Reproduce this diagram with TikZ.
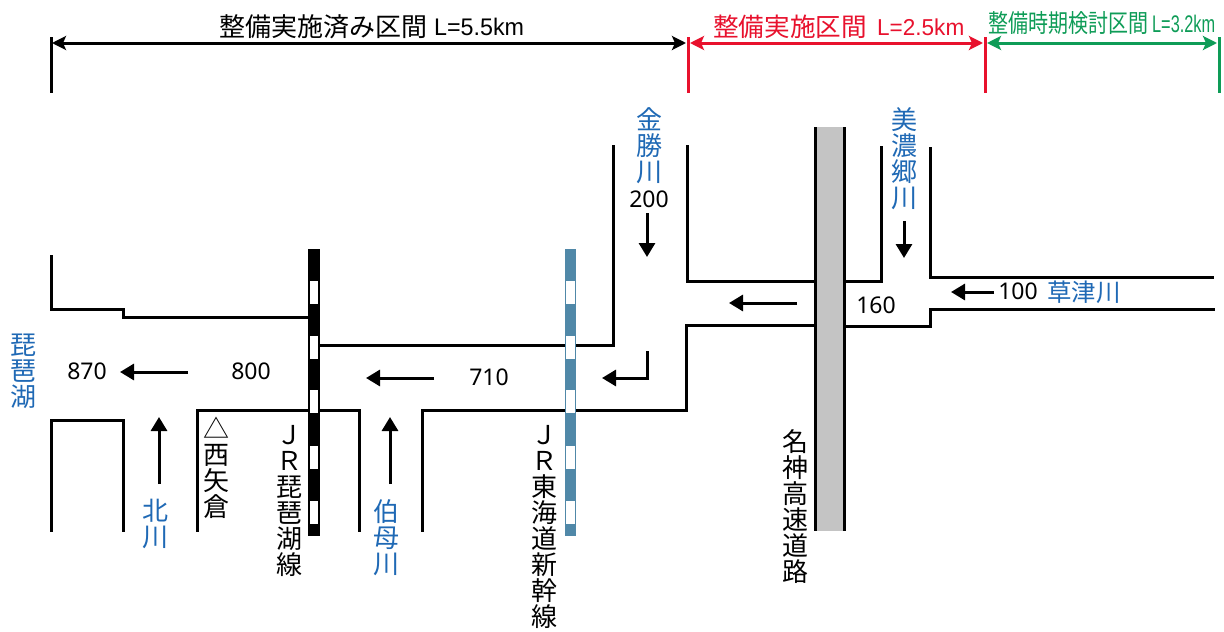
\documentclass[tikz,border=0pt]{standalone}
\usepackage{fontspec}
\usetikzlibrary{arrows.meta}
\setmainfont{Noto Sans CJK JP}
\newfontfamily\numfont{Noto Sans}
\newfontfamily\latfont{Liberation Sans}
\definecolor{riverblue}{HTML}{1F69B5}
\definecolor{secred}{HTML}{E8112D}
\definecolor{secgreen}{HTML}{0E9C57}
\definecolor{railblue}{HTML}{5088A8}
\definecolor{roadgray}{HTML}{C4C4C4}
\tikzset{
  wall/.style={line width=3pt,black,line join=miter},
  flow/.style={line width=3pt,black,-{Triangle[length=14pt,width=16pt]}},
  tick/.style={line width=3pt},
  span/.style={line width=3pt,{Stealth[length=14pt,width=14pt,inset=3pt]}-{Stealth[length=14pt,width=14pt,inset=3pt]}},
  vtext/.style={inner sep=0pt,align=center,font=\fontsize{26}{26}\selectfont},
  num/.style={inner sep=0pt,font=\numfont\fontsize{23}{24}\selectfont},
  river/.style={text=riverblue},
}
\newcommand{\railtrack}[2]{%
  \fill[#2] (#1-5.8,248.5) rectangle (#1+5.8,535.7);
  \foreach \yy in {281,335.5,390,445.5,500.5}
    \fill[white] (#1-4.2,\yy) rectangle (#1+4.2,\yy+23);
}
\begin{document}
\begin{tikzpicture}[x=1pt,y=-1pt]
\useasboundingbox (0,0) rectangle (1224,632);
\fill[white] (0,0) rectangle (1224,632);

% coordinates of brackets
\coordinate (a1) at (52,43); \coordinate (a2) at (686,43);
\coordinate (b1) at (690,43); \coordinate (b2) at (983,43);
\coordinate (c1) at (987,43); \coordinate (c2) at (1217,43);

\draw[tick,black] (51.5,37) -- (51.5,93);
\draw[tick,secred] (688,37) -- (688,93);
\draw[tick,secred] (985,37) -- (985,93);
\draw[tick,secgreen] (1219,37) -- (1219,93);
\draw[span,black] (a1) -- (a2);
\draw[span,secred] (b1) -- (b2);
\draw[span,secgreen] (c1) -- (c2);

\node[inner sep=0pt,anchor=base west] (t1) at (219,36) {\fontsize{26}{28}\selectfont 整備実施済み区間};
\node[inner sep=0pt,anchor=base west,xscale=.97] (t1b) at (434,35) {\latfont\fontsize{24}{26}\selectfont L=5.5km};
\node[inner sep=0pt,anchor=base west,text=secred] (t2) at (713,36) {\fontsize{25.6}{27}\selectfont 整備実施区間};
\node[inner sep=0pt,anchor=base west,text=secred,xscale=.98] (t2b) at (877,35) {\latfont\fontsize{23}{25}\selectfont L=2.5km};
\node[inner sep=0pt,anchor=base west,text=secgreen,xscale=.8] (t3) at (988,32) {\fontsize{25}{27}\selectfont 整備時期検討区間};
\node[inner sep=0pt,anchor=base west,text=secgreen,xscale=.68] (t3b) at (1152,32) {\latfont\fontsize{24}{26}\selectfont L=3.2km};

% channel walls
\draw[wall] (51.5,255) -- (51.5,309) -- (123,309) -- (123,317.5) -- (312,317.5);
\draw[wall] (51.5,531.5) -- (51.5,420) -- (123,420) -- (123,531.5);
\draw[wall] (197.5,531.5) -- (197.5,410) -- (359.5,410) -- (359.5,531.5);
\draw[wall] (315,345) -- (613,345) -- (613,145);
\draw[wall] (422,531.5) -- (422,410) -- (686,410) -- (686,325) -- (815,325);
\draw[wall] (687,145) -- (687,281) -- (815,281);
\draw[wall] (844,281) -- (881,281) -- (881,146);
\draw[wall] (930,147) -- (930,277) -- (1214,277);
\draw[wall] (844,326) -- (930,326) -- (930,309) -- (1215,309);

% expressway
\fill[roadgray] (815,127) rectangle (844,531);
\draw[wall] (815,127) -- (815,531);
\draw[wall] (844,127) -- (844,531);

% railways
\railtrack{314}{black}
\railtrack{570.4}{railblue}

% flow arrows
\coordinate (f1s) at (188,372); \coordinate (f1e) at (120,372);
\coordinate (f2s) at (434,378); \coordinate (f2e) at (366,378);
\coordinate (f3s) at (647,351); \coordinate (f3m) at (647,378); \coordinate (f3e) at (602,378);
\coordinate (f4s) at (647,213); \coordinate (f4e) at (647,257);
\coordinate (f5s) at (797,303); \coordinate (f5e) at (729,303);
\coordinate (f6s) at (904,221); \coordinate (f6e) at (904,258);
\coordinate (f7s) at (994,292); \coordinate (f7e) at (951,292);
\coordinate (f8s) at (159,484); \coordinate (f8e) at (159,417);
\coordinate (f9s) at (390,484); \coordinate (f9e) at (390,417);
\draw[flow] (f1s) -- (f1e);
\draw[flow] (f2s) -- (f2e);
\draw[flow] (f3s) -- (f3m) -- (f3e);
\draw[flow] (f4s) -- (f4e);
\draw[flow] (f5s) -- (f5e);
\draw[flow] (f6s) -- (f6e);
\draw[flow] (f7s) -- (f7e);
\draw[flow] (f8s) -- (f8e);
\draw[flow] (f9s) -- (f9e);

% labels
\node[vtext,river] (biwako) at (23,371) {琵\\琶\\湖};
\node[vtext,river] (kita) at (155,524) {北\\川};
\node[vtext] (nishi) at (216,468) {△\\西\\矢\\倉};
\node[vtext] (jrb) at (289,501) {Ｊ\\Ｒ\\琵\\琶\\湖\\線};
\node[vtext,river] (hak) at (386,538) {伯\\母\\川};
\node[vtext] (jrt) at (544,527) {Ｊ\\Ｒ\\東\\海\\道\\新\\幹\\線};
\node[vtext,river] (kon) at (649,146) {金\\勝\\川};
\node[vtext] (mei) at (795,507) {名\\神\\高\\速\\道\\路};
\node[vtext,river] (mino) at (904,159) {美\\濃\\郷\\川};
\node[inner sep=0pt,river,font=\fontsize{24.5}{26}\selectfont] (kusa) at (1084,292) {草津川};

\node[num] (n870) at (87,371) {870};
\node[num] (n800) at (251,371) {800};
\node[num] (n710) at (489,377) {710};
\node[num] (n200) at (649,199) {200};
\node[num] (n160) at (876,305) {160};
\node[num] (n100) at (1018,291) {100};
\end{tikzpicture}
\end{document}
